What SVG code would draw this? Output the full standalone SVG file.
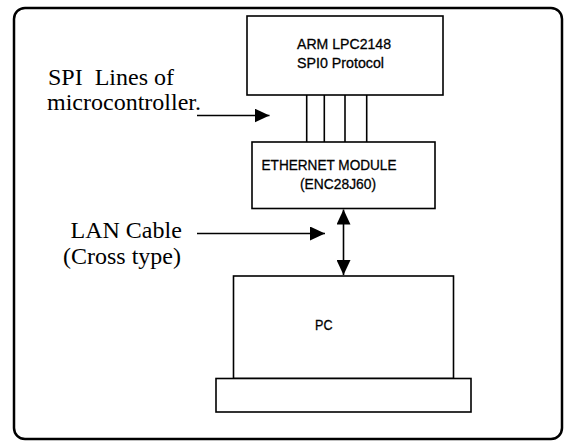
<svg xmlns="http://www.w3.org/2000/svg" width="565" height="441" viewBox="0 0 565 441">
<style>
.box{fill:#fff;stroke:#000;stroke-width:1.6}
.frame{fill:#fff;stroke:#000;stroke-width:2.5}
.ln{fill:none;stroke:#000;stroke-width:1.6}
.sans{font-family:"Liberation Sans",Arial,sans-serif;font-size:15px;fill:#000;stroke:#000;stroke-width:0.3}
.serif{font-family:"Liberation Serif","Times New Roman",serif;font-size:24px;fill:#000}
</style>
<defs>
<marker id="ah" viewBox="0 0 15 14" refX="15" refY="7" markerWidth="15" markerHeight="14" markerUnits="userSpaceOnUse" orient="auto-start-reverse">
<path d="M0,0 L15,7 L0,14 Z" fill="#000"/>
</marker>
</defs>
<rect class="frame" x="14" y="8" width="548" height="431" rx="11" ry="11"/>
<g id="labels">
<text class="serif" x="48" y="84.5" xml:space="preserve">SPI  Lines of</text>
<text class="serif" x="47" y="110">microcontroller.</text>
<text class="serif" x="70.5" y="237.5">LAN Cable</text>
<text class="serif" x="63" y="263.5">(Cross type)</text>
</g>
<g id="connectors">
<line class="ln" x1="306.7" y1="95" x2="306.7" y2="142"/>
<line class="ln" x1="324.3" y1="95" x2="324.3" y2="142"/>
<line class="ln" x1="345" y1="95" x2="345" y2="142"/>
<line class="ln" x1="366.7" y1="95" x2="366.7" y2="142"/>
<line class="ln" x1="197" y1="115.5" x2="269.5" y2="115.5" marker-end="url(#ah)"/>
<line class="ln" x1="197" y1="233.5" x2="325" y2="233.5" marker-end="url(#ah)"/>
<line class="ln" x1="343.5" y1="209.5" x2="343.5" y2="275" marker-start="url(#ah)" marker-end="url(#ah)"/>
</g>
<g id="arm">
<rect class="box" x="247" y="16" width="196" height="79"/>
<text class="sans" x="297" y="49" textLength="94" lengthAdjust="spacingAndGlyphs">ARM LPC2148</text>
<text class="sans" x="297" y="68" textLength="87" lengthAdjust="spacingAndGlyphs">SPI0 Protocol</text>
</g>
<g id="ethernet">
<rect class="box" x="252" y="142" width="183" height="66.5"/>
<text class="sans" x="261.5" y="169.5" textLength="135" lengthAdjust="spacingAndGlyphs">ETHERNET MODULE</text>
<text class="sans" x="300" y="188.5" textLength="76" lengthAdjust="spacingAndGlyphs">(ENC28J60)</text>
</g>
<g id="pc">
<rect class="box" x="233.5" y="276" width="220" height="102.5"/>
<rect class="box" x="216" y="378.5" width="255" height="33.5"/>
<text class="sans" x="315" y="330" textLength="17.5" lengthAdjust="spacingAndGlyphs">PC</text>
</g>
</svg>
